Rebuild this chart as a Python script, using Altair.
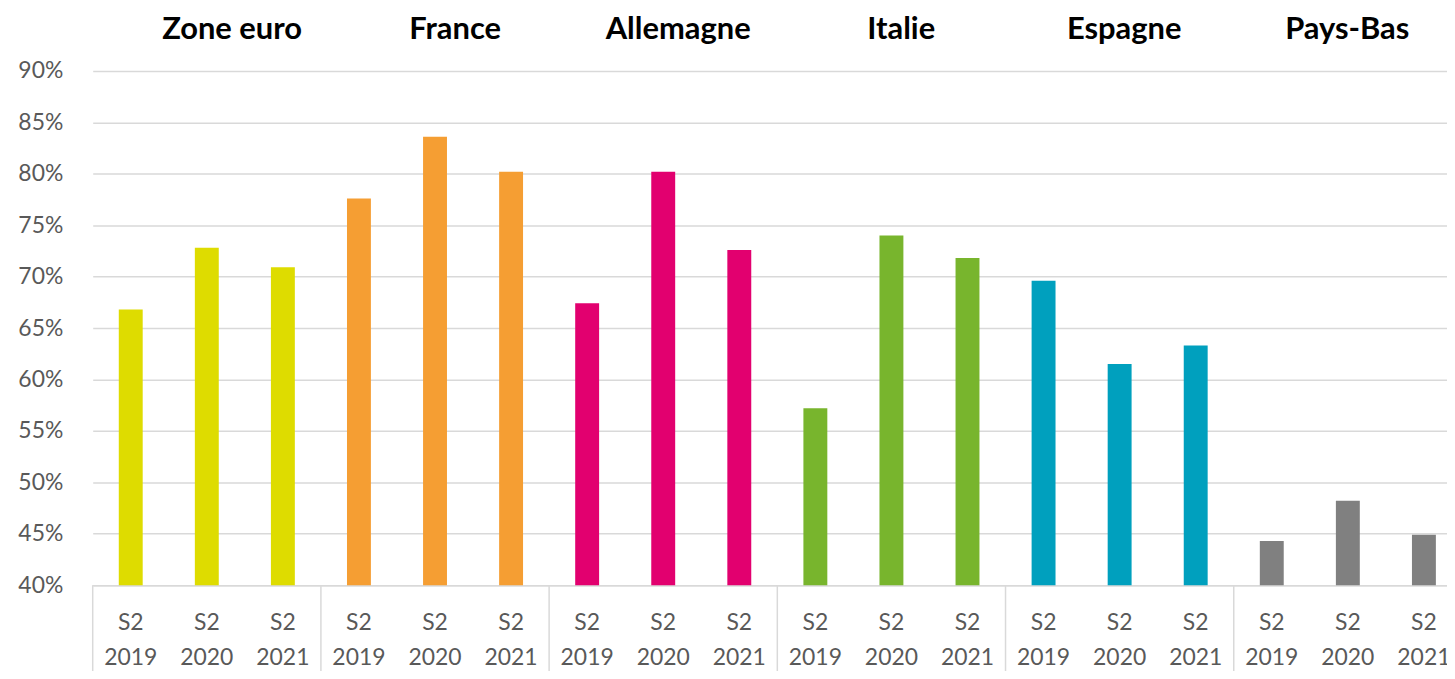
import altair as alt
import pandas as pd

groups = ["Zone euro", "France", "Allemagne", "Italie", "Espagne", "Pays-Bas"]
periods = ["2019", "2020", "2021"]
colors = ["#DEDC00", "#F59E33", "#E2006F", "#78B52D", "#00A0BE", "#808080"]
zone_euro = [66.8, 72.8, 70.9]
france = [77.6, 83.6, 80.2]
allemagne = [67.4, 80.2, 72.6]
italie = [57.2, 74.0, 71.8]
espagne = [69.6, 61.5, 63.3]
pays_bas = [44.3, 48.2, 44.9]
series = [zone_euro, france, allemagne, italie, espagne, pays_bas]

rows = []
for g, vals in zip(groups, series):
    for p, v in zip(periods, vals):
        rows.append({"groupe": g, "periode": p, "key": f"{g}|{p}", "valeur": v / 100})
df = pd.DataFrame(rows)
order = list(df["key"])

W, H = 1359, 516
RANGE = 1374
step = RANGE / len(order)
FONT = "Lato"


def band(rng):
    return alt.Scale(domain=order, paddingInner=0, paddingOuter=0, range=rng)


x_enc = alt.X("key:N", sort=order, scale=band([0, RANGE]),
              axis=alt.Axis(title=None, labelExpr="['S2', split(datum.label, '|')[1]]",
                            labelAngle=0, labelFontSize=23, labelColor="#595959",
                            labelFont=FONT, labelLineHeight=35, labelPadding=27,
                            ticks=False, domainColor="#d9d9d9", domainWidth=1.5,
                            labelBaseline="top"))

bars = alt.Chart(df).mark_bar(size=24).encode(
    x=x_enc,
    y=alt.Y("valeur:Q", scale=alt.Scale(domain=[0.4, 0.9], nice=False, zero=False),
            axis=alt.Axis(title=None, format=".0%",
                          values=[0.4, 0.45, 0.5, 0.55, 0.6, 0.65, 0.7, 0.75, 0.8, 0.85, 0.9],
                          labelFontSize=23, labelColor="#595959", labelFont=FONT,
                          labelPadding=30, ticks=False, domain=False,
                          gridColor="#d9d9d9", gridWidth=1.5)),
    y2=alt.datum(0.4),
    color=alt.Color("groupe:N", scale=alt.Scale(domain=groups, range=colors), legend=None),
)

first = df[df["periode"] == "2019"]
seps = alt.Chart(first).mark_rule(color="#d9d9d9", strokeWidth=1.5, xOffset=-step / 2).encode(
    x=alt.X("key:N", scale=band([0, RANGE]), axis=None),
    y=alt.value(H),
    y2=alt.value(H + 95),
)

# Group titles sit on a slightly tighter spacing than the bar groups
mid = df[df["periode"] == "2020"]
titles = alt.Chart(mid).mark_text(font=FONT, fontWeight="bold", fontSize=31, color="#000000",
                                  baseline="middle").encode(
    x=alt.X("key:N", axis=None, scale=band([28, 28 + 18 * 74.6])),
    y=alt.value(-41),
    text="groupe:N",
)

chart = alt.layer(bars, seps, titles).resolve_scale(x="independent").properties(
    width=W, height=H,
    autosize=alt.AutoSizeParams(type="none"),
    padding={"left": 85, "top": 62, "right": 0, "bottom": 85},
).configure_view(stroke=None)

chart.save("out.html", embed_options={"renderer": "svg", "actions": False})
